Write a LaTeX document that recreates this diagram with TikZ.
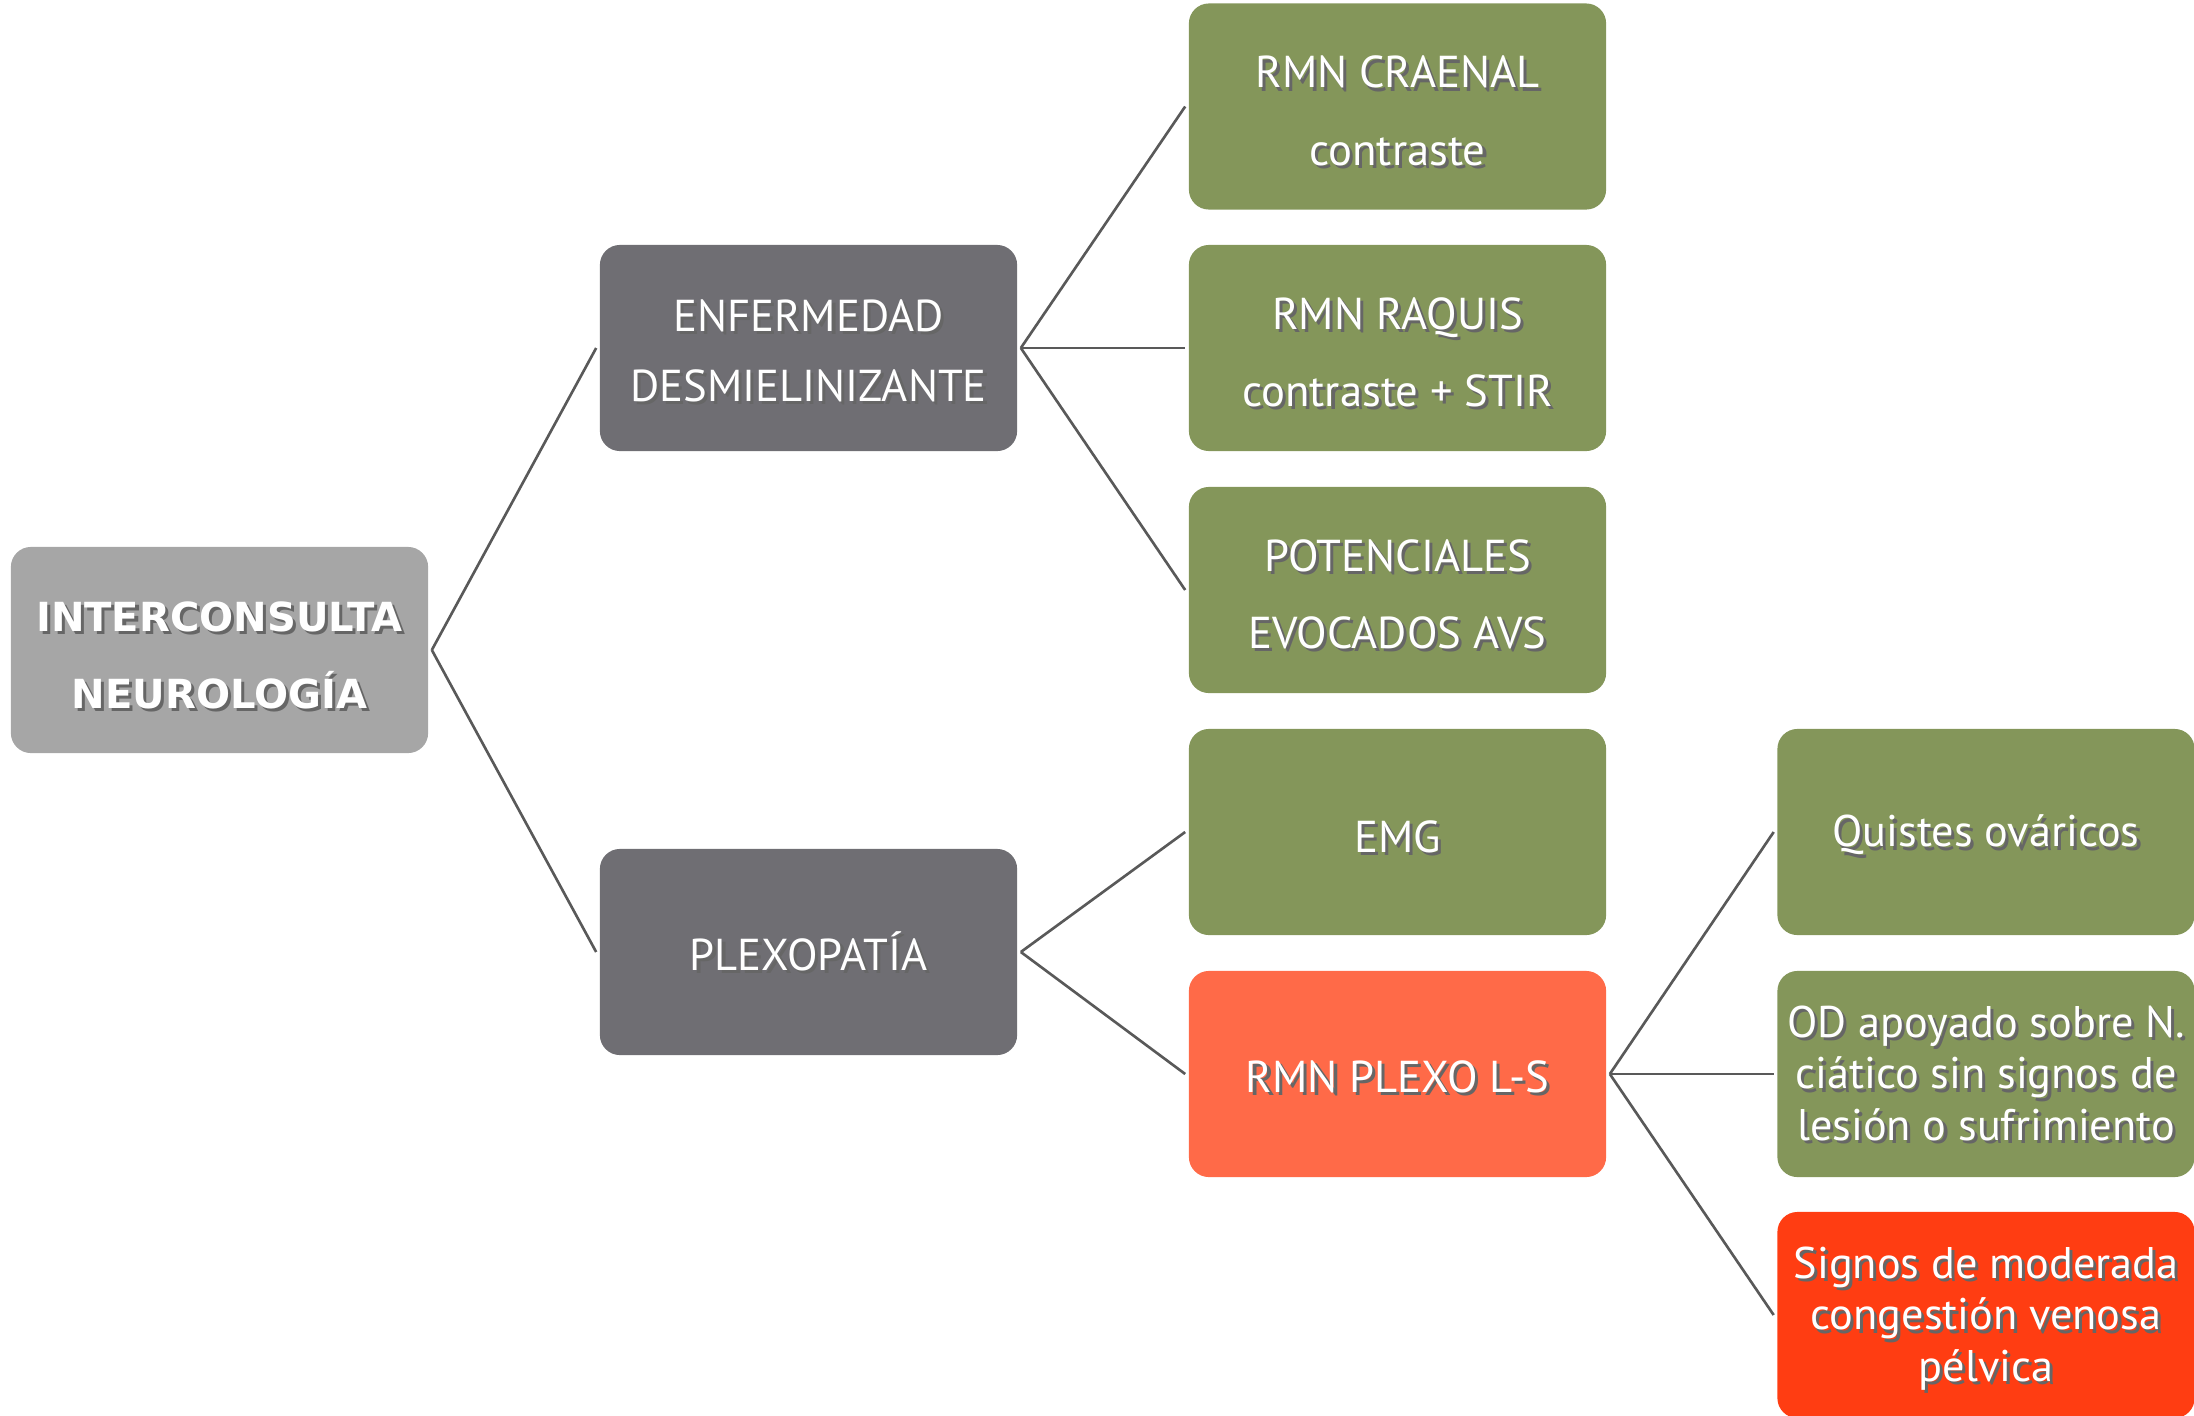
\documentclass[tikz,border=0pt]{standalone}
\usepackage{fontspec}
\setmainfont{PT Sans}
\newfontfamily\boldfam{DejaVu Sans}
\definecolor{cgreen}{HTML}{84965A}
\definecolor{cdark}{HTML}{6F6E73}
\definecolor{clight}{HTML}{A6A6A6}
\definecolor{corange}{HTML}{FF6A48}
\definecolor{cred}{HTML}{FF3D12}
\definecolor{cline}{HTML}{595959}
\newcommand\shad[1]{\rlap{\raisebox{-0.9pt}{\kern0.9pt\textcolor{black!60}{#1}}}#1}
\newcommand\ttxt[1]{\raisebox{0pt}[\dimexpr\height+2.6pt\relax][\depth]{\begin{tabular}{@{}c@{}}#1\end{tabular}}}
\begin{document}
\begin{tikzpicture}[x=0.01cm,y=-0.01cm,
  box/.style={rounded corners=0.2cm, minimum width=4.17cm, minimum height=2.06cm, inner sep=0pt, text=white, font=\fontsize{12.7}{20}\selectfont},
  gbox/.style={box, fill=cgreen, font=\fontsize{12.7}{22}\selectfont},
  sbox/.style={box, font=\fontsize{12.6}{14.7}\selectfont},
  conn/.style={draw=cline, line width=0.75pt}]
\useasboundingbox (0,0) rectangle (2194,1415);
\node[box, fill=clight, font=\boldfam\bfseries\fontsize{11.4}{22}\selectfont] (root) at (219.5,650) {\ttxt{\shad{INTERCONSULTA}\\\shad{NEUROLOGÍA}}};
\node[box, fill=cdark] (enf) at (808.5,348) {\ttxt{\shad{ENFERMEDAD}\\\shad{DESMIELINIZANTE}}};
\node[box, fill=cdark] (plex) at (808.5,952) {\ttxt{\shad{PLEXOPATÍA}}};
\node[gbox] (g1) at (1397.5,106.5) {\ttxt{\shad{RMN CRAENAL}\\\shad{contraste}}};
\node[gbox] (g2) at (1397.5,348) {\ttxt{\shad{RMN RAQUIS}\\\shad{contraste + STIR}}};
\node[gbox] (g3) at (1397.5,590) {\ttxt{\shad{POTENCIALES}\\\shad{EVOCADOS AVS}}};
\node[gbox] (g4) at (1397.5,832) {\ttxt{\shad{EMG}}};
\node[box, fill=corange] (g5) at (1397.5,1074) {\ttxt{\shad{RMN PLEXO L-S}}};
\node[sbox, fill=cgreen] (r1) at (1986,832) {\ttxt{\shad{Quistes ováricos}}};
\node[sbox, fill=cgreen] (r2) at (1986,1074) {\ttxt{\shad{OD apoyado sobre N.}\\\shad{ciático sin signos de}\\\shad{lesión o sufrimiento}}};
\node[sbox, fill=cred] (r3) at (1986,1315) {\ttxt{\shad{Signos de moderada}\\\shad{congestión venosa}\\\shad{pélvica}}};
\draw[conn] ([xshift=0.03cm]root.east) -- ([xshift=-0.03cm]enf.west);
\draw[conn] ([xshift=0.03cm]root.east) -- ([xshift=-0.03cm]plex.west);
\foreach \t in {g1,g2,g3}{\draw[conn] ([xshift=0.03cm]enf.east) -- ([xshift=-0.03cm]\t.west);}
\foreach \t in {g4,g5}{\draw[conn] ([xshift=0.03cm]plex.east) -- ([xshift=-0.03cm]\t.west);}
\foreach \t in {r1,r2,r3}{\draw[conn] ([xshift=0.03cm]g5.east) -- ([xshift=-0.03cm]\t.west);}
\end{tikzpicture}
\end{document}
